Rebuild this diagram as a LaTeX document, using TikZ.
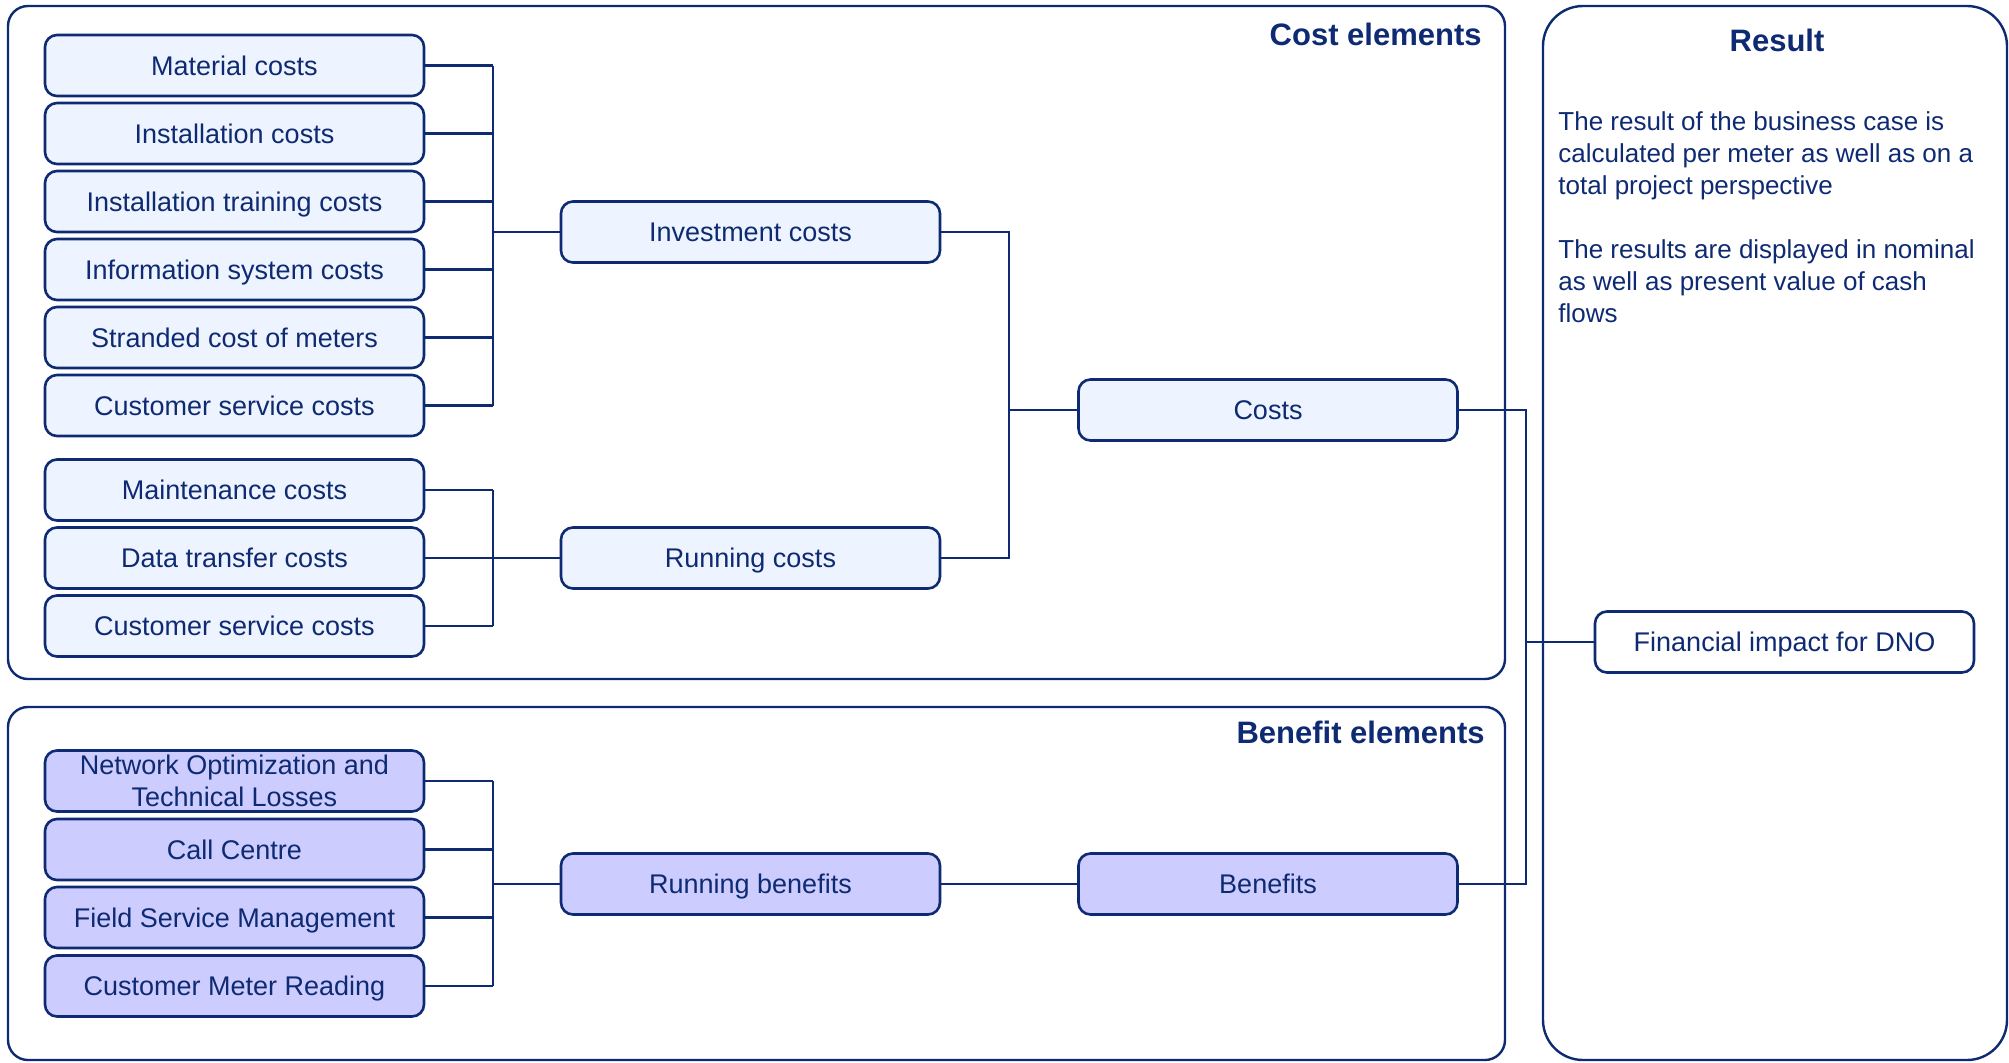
\documentclass[tikz,border=0pt]{standalone}
\usepackage{fontspec}
\setmainfont{Liberation Sans}
\definecolor{navy}{RGB}{14,42,114}
\definecolor{costfill}{RGB}{238,244,255}
\definecolor{benfill}{RGB}{204,204,255}
\begin{document}
\begin{tikzpicture}[x=0.5pt,y=-0.5pt,
  basebox/.style={draw=navy,line width=1.3pt,rounded corners=6pt,
    minimum width=189.5pt,minimum height=30.5pt,inner sep=0pt,
    text=navy,font=\fontsize{13.5}{16}\selectfont,align=center},
  box/.style={basebox,text height=11pt,text depth=1.4pt},
  costbox/.style={box,fill=costfill},
  benbox/.style={box,fill=benfill},
  panel/.style={draw=navy,line width=1.2pt,rounded corners=10pt},
  conn/.style={draw=navy,line width=1.15pt},
  paneltitle/.style={text=navy,font=\fontsize{15.5}{18}\selectfont\bfseries,inner sep=0pt}]
\useasboundingbox (0,0) rectangle (2009,1062);

% panels
\draw[panel] (8,6) rectangle (1505,679);
\draw[panel] (8,707) rectangle (1505,1060);
\draw[panel,rounded corners=20pt] (1543,6) rectangle (2007,1060);

\node[paneltitle,anchor=base east] (tcost) at (1482,45) {Cost elements};
\node[paneltitle,anchor=base east] (tben) at (1485,743) {Benefit elements};
\node[paneltitle,anchor=base] (tres) at (1777,51) {Result};
\node[anchor=north west,inner sep=0pt,text=navy,align=left,
  font=\fontsize{13}{16}\selectfont] (restext) at (1558,111)
  {The result of the business case is\\
   calculated per meter as well as on a\\
   total project perspective\\[16pt]
   The results are displayed in nominal\\
   as well as present value of cash\\
   flows};

% investment cost items
\node[costbox] (mat)    at (234.5,65.5)  {Material costs};
\node[costbox] (inst)   at (234.5,133.5) {Installation costs};
\node[costbox] (train)  at (234.5,201.5) {Installation training costs};
\node[costbox] (info)   at (234.5,269.5) {Information system costs};
\node[costbox] (strand) at (234.5,337.5) {Stranded cost of meters};
\node[costbox] (cserv)  at (234.5,405.5) {Customer service costs};

% running cost items
\node[costbox] (maint)  at (234.5,490) {Maintenance costs};
\node[costbox] (data)   at (234.5,558) {Data transfer costs};
\node[costbox] (cservb) at (234.5,626) {Customer service costs};

% benefit items
\node[basebox,fill=benfill] (netopt) at (234.5,781) {Network Optimization and\\Technical Losses};
\node[benbox] (call)   at (234.5,849.5) {Call Centre};
\node[benbox] (field)  at (234.5,917.5) {Field Service Management};
\node[benbox] (meter)  at (234.5,986)   {Customer Meter Reading};

% aggregates
\node[costbox] (inv)    at (750.5,232) {Investment costs};
\node[costbox] (run)    at (750.5,558) {Running costs};
\node[benbox]  (runben) at (750.5,884) {Running benefits};
\node[costbox] (costs)  at (1268,410)  {Costs};
\node[benbox]  (bens)   at (1268,884)  {Benefits};
\node[box,fill=white] (fin) at (1784.5,642) {Financial impact for DNO};

% junction points
\coordinate (ja) at (493,232);
\coordinate (jb) at (493,558);
\coordinate (jc) at (493,884);
\coordinate (jd) at (1009,410);
\coordinate (je) at (1526,642);

% connectors
\foreach \n in {mat,inst,train,info,strand,cserv}
  \draw[conn] (\n.east) -- (\n.east -| ja);
\draw[conn] (mat.east -| ja) -- (cserv.east -| ja);
\draw[conn] (ja) -- (inv.west);

\foreach \n in {maint,data,cservb}
  \draw[conn] (\n.east) -- (\n.east -| jb);
\draw[conn] (maint.east -| jb) -- (cservb.east -| jb);
\draw[conn] (jb) -- (run.west);

\foreach \n in {netopt,call,field,meter}
  \draw[conn] (\n.east) -- (\n.east -| jc);
\draw[conn] (netopt.east -| jc) -- (meter.east -| jc);
\draw[conn] (jc) -- (runben.west);

\draw[conn] (inv.east) -- (inv.east -| jd) -- (run.east -| jd) -- (run.east);
\draw[conn] (jd) -- (costs.west);
\draw[conn] (runben.east) -- (bens.west);

\draw[conn] (costs.east) -- (costs.east -| je) -- (bens.east -| je) -- (bens.east);
\draw[conn] (je) -- (fin.west);
\end{tikzpicture}
\end{document}
